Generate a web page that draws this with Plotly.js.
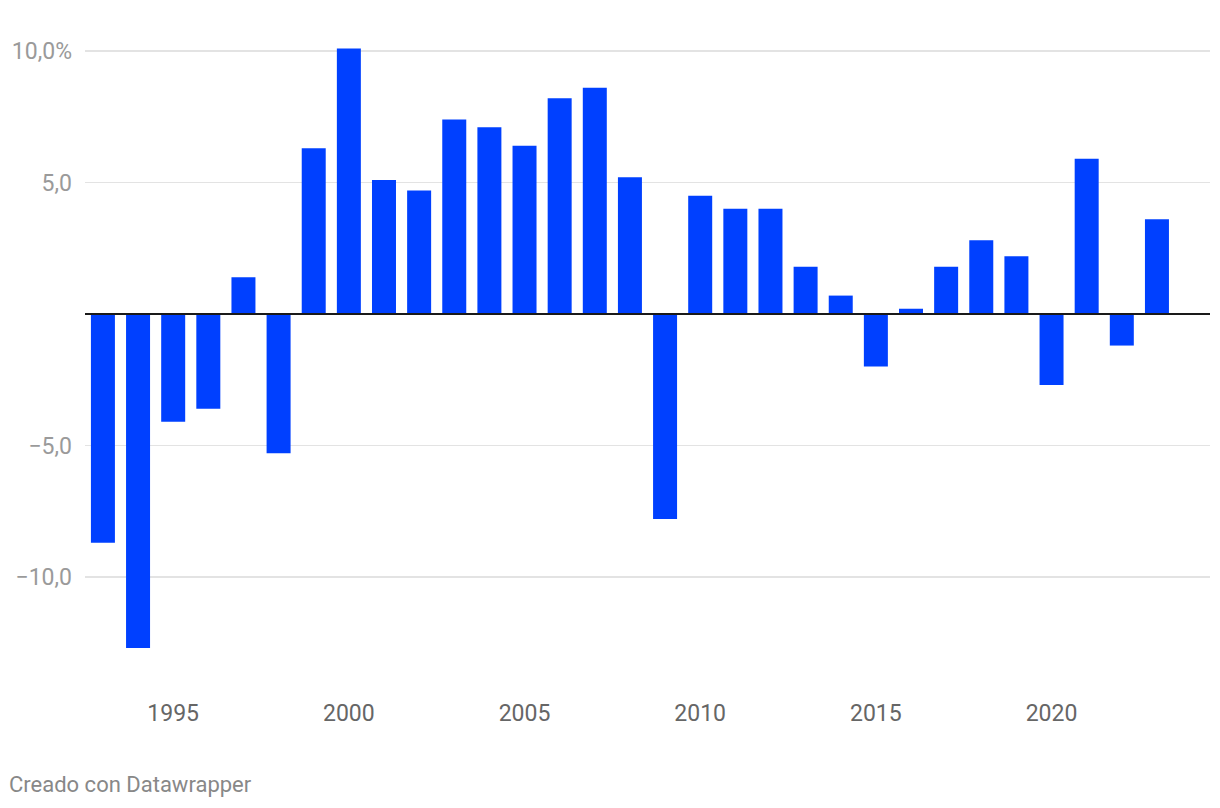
<!DOCTYPE html>
<html>
<head>
<meta charset="utf-8">
<script src="https://cdn.plot.ly/plotly-3.0.1.min.js"></script>
<style>
html,body{margin:0;padding:0;background:#fff;}
#chart{width:1220px;height:808px;}
</style>
</head>
<body>
<div id="chart"></div>
<script>
const years = [1993,1994,1995,1996,1997,1998,1999,2000,2001,2002,2003,2004,2005,2006,2007,2008,2009,2010,2011,2012,2013,2014,2015,2016,2017,2018,2019,2020,2021,2022,2023];
const values = [-8.7,-12.7,-4.1,-3.6,1.4,-5.3,6.3,10.1,5.1,4.7,7.4,7.1,6.4,8.2,8.6,5.2,-7.8,4.5,4.0,4.0,1.8,0.7,-2.0,0.2,1.8,2.8,2.2,-2.7,5.9,-1.2,3.6];
const yTickVals = [-10,-5,5,10];
const yTickText = ['\u221210,0','\u22125,0','5,0','10,0%'];
const xTickVals = [1995,2000,2005,2010,2015,2020];
const xTickText = ['1995','2000','2005','2010','2015','2020'];

const trace = {
  type:'bar', x: years, y: values,
  marker:{color:'#0040ff', line:{width:0}},
  width:0.683,
  hoverinfo:'x+y'
};
const layout = {
  width:1220, height:808,
  margin:{l:85, r:10, t:30, b:139},
  paper_bgcolor:'#fff', plot_bgcolor:'#fff',
  showlegend:false,
  font:{family:'Roboto, sans-serif'},
  xaxis:{
    range:[1992.49,2024.51],
    tickvals:xTickVals, ticktext:xTickText,
    showgrid:false, zeroline:false, showline:false,
    ticks:'', ticklabelstandoff:28,
    tickfont:{size:23, color:'#666666'},
    fixedrange:true
  },
  yaxis:{
    range:[-13.5,10.8],
    tickvals:yTickVals, ticktext:yTickText,
    showgrid:true, gridcolor:'#e3e3e3', gridwidth:1.5,
    zeroline:true, zerolinecolor:'#1a1a1a', zerolinewidth:2,
    zerolinelayer:'above traces',
    showline:false, ticks:'', ticklabelstandoff:12,
    tickfont:{size:23, color:'#9a9a9a'},
    fixedrange:true
  },
  annotations:[{
    text:'Creado con Datawrapper', xref:'paper', yref:'paper',
    x:0, xshift:-78, y:0, yshift:-115, xanchor:'left', yanchor:'middle',
    showarrow:false, font:{size:22, color:'#888888'}
  }]
};
Plotly.newPlot('chart',[trace],layout,{displayModeBar:false, staticPlot:true});
</script>
</body>
</html>
